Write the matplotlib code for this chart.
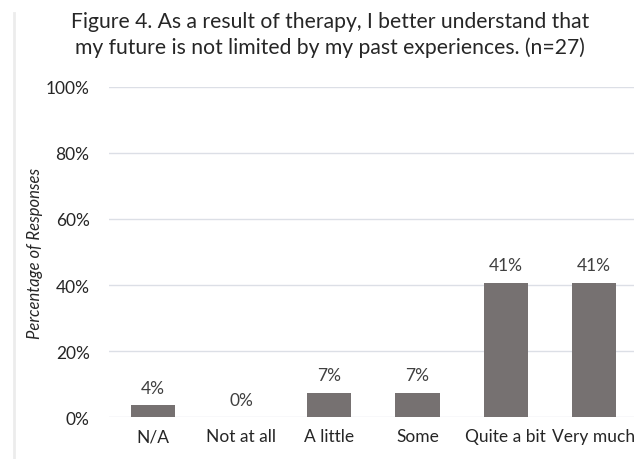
import matplotlib.pyplot as plt
from matplotlib.ticker import PercentFormatter

plt.rcParams['font.family'] = ['Lato', 'DejaVu Sans']

categories = ['N/A', 'Not at all', 'A little', 'Some', 'Quite a bit', 'Very much']
percents = [3.7, 0.0, 7.4, 7.4, 40.7, 40.7]
bar_labels = ['4%', '0%', '7%', '7%', '41%', '41%']

fig = plt.figure(figsize=(6.34, 4.6), dpi=100)
ax = fig.add_axes([0.172, 0.0913, 0.834, 0.7174])

x = range(len(categories))
ax.bar(x, percents, width=0.5, color='#767171', zorder=3)
for xi, v, lab in zip(x, percents, bar_labels):
    ax.text(xi, v + 2.8, lab, ha='center', va='bottom', fontsize=12.5, color='#404040')

ax.set_xlim(-0.5, 5.5)
ax.set_ylim(0, 100)
ax.set_yticks(range(0, 101, 20))
ax.yaxis.set_major_formatter(PercentFormatter(decimals=0))
ax.set_xticks(list(x))
ax.set_xticklabels(categories)
ax.tick_params(axis='both', length=0, labelsize=12.5, colors='#262626')
ax.tick_params(axis='x', pad=8)
ax.tick_params(axis='y', pad=14)
ax.grid(axis='y', color='#dcdfe6', lw=1, zorder=0)
for s in ax.spines.values():
    s.set_visible(False)

ax.set_ylabel('Percentage of Responses', style='italic', fontsize=12, color='#262626')
ax.yaxis.set_label_coords(-0.125, 0.5)

fig.text(0.52, 0.975, 'Figure 4. As a result of therapy, I better understand that\n'
         'my future is not limited by my past experiences. (n=27)',
         ha='center', va='top', fontsize=15.2, color='#262626', linespacing=1.35)

# faint page edge on the left
fig.add_artist(plt.Line2D([0.022, 0.022], [0, 0.97], color='#ececec', lw=2))

fig.savefig('out.png', dpi=100)
